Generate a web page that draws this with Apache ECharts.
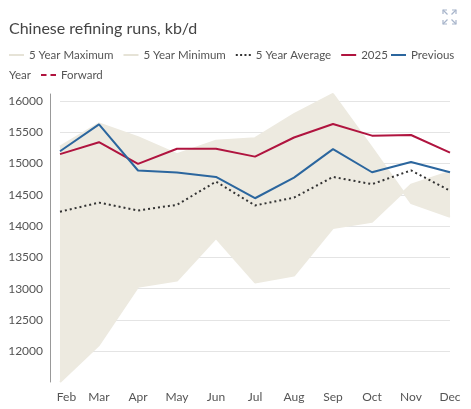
<!DOCTYPE html>
<html>
<head>
<meta charset="utf-8">
<script src="https://cdn.jsdelivr.net/npm/echarts@6/dist/echarts.min.js"></script>
<style>
html,body{margin:0;padding:0;background:#fff;}
#c{width:471px;height:409px;}
</style>
</head>
<body>
<div id="c"></div>
<script>
const months = ['Feb','Mar','Apr','May','Jun','Jul','Aug','Sep','Oct','Nov','Dec'];
const max5 = [15270, 15640, 15420, 15150, 15365, 15405, 15790, 16110, 15250, 14370, 14150];
const min5 = [11510, 12100, 13030, 13130, 13810, 13100, 13210, 13970, 14070, 14660, 14870];
const avg5 = [14230, 14375, 14250, 14340, 14710, 14330, 14455, 14785, 14670, 14890, 14565];
const y2025 = [15150, 15340, 14995, 15235, 15235, 15110, 15415, 15630, 15445, 15455, 15175];
const prevYear = [15195, 15625, 14888, 14855, 14785, 14445, 14775, 15230, 14860, 15025, 14860];
const forward = [];
const yTicksMin = 11510, yTicksMax = 16110;

const FONT = 'Lato';
const BAND = '#edeae0';
const BANDICON = '#e6e3d7';
const RED = '#b0143f';
const BLUE = '#2b669e';

const ICON_SOLID = 'path://M0,0h15v2h-15z';
const ICON_DOT = 'path://M0,0h2v2h-2zM4.33,0h2v2h-2zM8.67,0h2v2h-2zM13,0h2v2h-2z';
const ICON_DASH = 'path://M0,0h5.5v2h-5.5zM9.5,0h5.5v2h-5.5z';

const chart = echarts.init(document.getElementById('c'), null, {renderer: 'canvas'});

function arrowGroup() {
  const c = '#a8b5cb';
  const s = {stroke: c, lineWidth: 1.2, fill: null};
  const items = [];
  const corners = [[443,10,1,1],[456,10,-1,1],[443,24,1,-1],[456,24,-1,-1]];
  corners.forEach(([x,y,dx,dy]) => {
    items.push({type:'polyline', shape:{points:[[x+dx*4,y],[x,y],[x,y+dy*4]]}, style:s, silent:true});
    items.push({type:'line', shape:{x1:x,y1:y,x2:x+dx*4.5,y2:y+dy*4.5}, style:s, silent:true});
  });
  return items;
}

const LFS = 11.5;
const legendText = {fontFamily: FONT, fontSize: LFS, color: '#555'};
const legendBase = {padding: 0, itemWidth: 15, itemHeight: 2, itemGap: 10, textStyle: legendText, selectedMode: false};

const option = {
  animation: false,
  backgroundColor: '#fff',
  title: {
    text: 'Chinese refining runs, kb/d',
    left: 9, top: 21, padding: 0,
    textStyle: {fontFamily: FONT, fontSize: 16, fontWeight: 'normal', color: '#444'}
  },
  legend: [
    Object.assign({}, legendBase, {
      left: 9, top: 49,
      data: [
        {name: '5 Year Maximum', icon: ICON_SOLID, itemStyle: {color: BANDICON}},
        {name: '5 Year Minimum', icon: ICON_SOLID, itemStyle: {color: BANDICON}},
        {name: '5 Year Average', icon: ICON_DOT, itemStyle: {color: '#333'}},
        {name: '2025', icon: ICON_SOLID, itemStyle: {color: RED}}
      ]
    }),
    Object.assign({}, legendBase, {
      left: 391, top: 49,
      data: [{name: 'Previous Year', icon: ICON_SOLID, itemStyle: {color: BLUE}}],
      formatter: n => 'Previous'
    }),
    Object.assign({}, legendBase, {
      left: 41, top: 69,
      data: [{name: 'Forward', icon: ICON_DASH, itemStyle: {color: RED}}]
    })
  ],
  graphic: [
    {type:'text', left: 9, top: 69, style:{text:'Year', font: LFS + 'px ' + FONT, fill:'#555'}, silent:true},
    ...arrowGroup()
  ],
  grid: {left: 60, right: 21, top: 94, bottom: 27},
  xAxis: {
    type: 'category',
    data: months,
    boundaryGap: false,
    axisLine: {show: false},
    axisTick: {show: false},
    axisLabel: {
      interval: 0,
      margin: 9, fontFamily: FONT, fontSize: 12, color: '#555',
      formatter: v => v === 'Feb' ? '{f|Feb}' : v,
      rich: {f: {padding: [0,0,0,13], fontFamily: FONT, fontSize: 12, color: '#555'}}
    },
    splitLine: {show: false}
  },
  yAxis: {
    type: 'value',
    min: yTicksMin, max: yTicksMax,
    splitNumber: 9,
    offset: 10,
    axisLine: {show: true, lineStyle: {color: '#999', width: 1}},
    axisTick: {show: false},
    axisLabel: {margin: 7, fontFamily: FONT, fontSize: 12, color: '#555', showMinLabel: false, showMaxLabel: false,
      formatter: v => String(v)},
    splitLine: {show: true, showMinLine: false, showMaxLine: false, lineStyle: {color: '#e4e4e4', width: 1}}
  },
  series: [
    {
      name: '5 Year Minimum', type: 'line', data: min5,
      stack: 'band', stackStrategy: 'all',
      symbol: 'none', lineStyle: {color: BAND, width: 2}, itemStyle: {color: BAND},
      z: 1
    },
    {
      name: '5 Year Maximum', type: 'line', data: max5.map((v, i) => v - min5[i]),
      stack: 'band', stackStrategy: 'all',
      symbol: 'none', lineStyle: {color: BAND, width: 2}, itemStyle: {color: BAND},
      areaStyle: {color: BAND, opacity: 1},
      z: 1
    },
    {
      name: '5 Year Average', type: 'line', data: avg5,
      symbol: 'none', lineStyle: {color: '#333', width: 2, type: [2, 3]}, itemStyle: {color: '#333'},
      z: 3
    },
    {
      name: '2025', type: 'line', data: y2025,
      symbol: 'none', lineStyle: {color: RED, width: 2}, itemStyle: {color: RED},
      z: 4
    },
    {
      name: 'Previous Year', type: 'line', data: prevYear,
      symbol: 'none', lineStyle: {color: BLUE, width: 2}, itemStyle: {color: BLUE},
      z: 5
    },
    {
      name: 'Forward', type: 'line', data: forward,
      symbol: 'none', lineStyle: {color: RED, width: 2, type: [5, 3]}, itemStyle: {color: RED},
      z: 6
    }
  ]
};
chart.setOption(option);
</script>
</body>
</html>
